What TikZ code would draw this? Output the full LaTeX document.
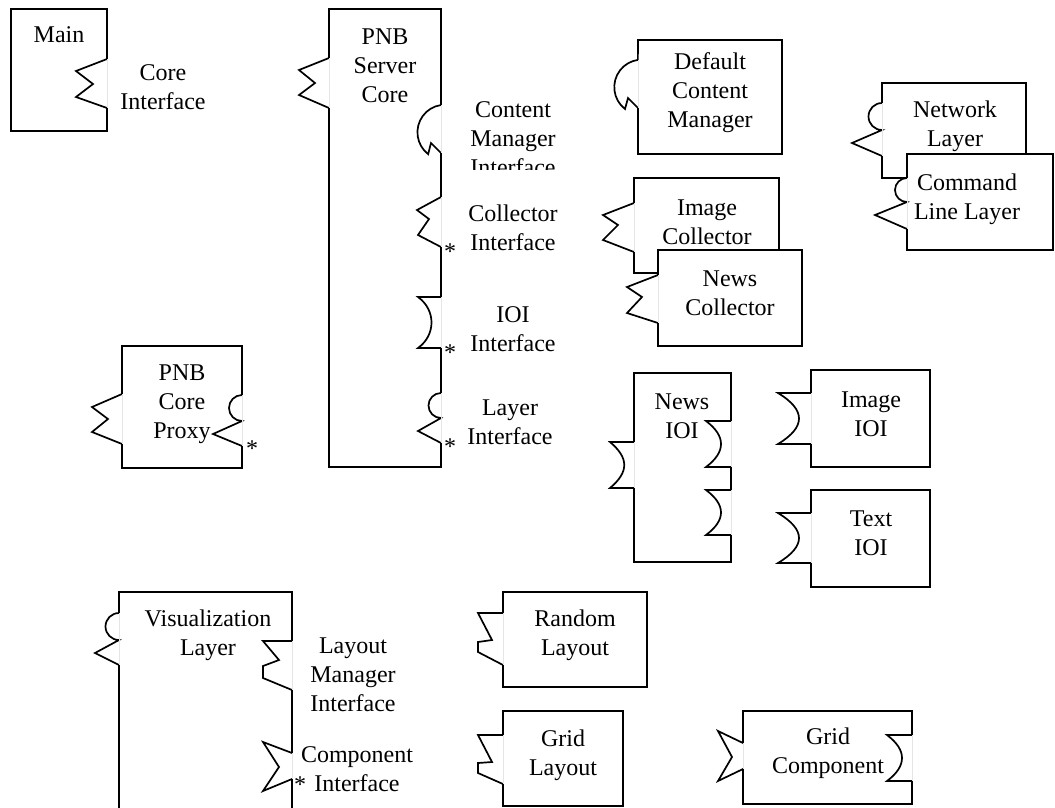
\documentclass[tikz,border=0pt]{standalone}
\usepackage{fontspec}
\setmainfont{Liberation Serif}
\newcommand\lblfont{\fontsize{24}{29}\selectfont}
\tikzset{
  outline/.style={draw=black, line width=1.7pt, line join=miter, fill=white},
  seam/.style={draw=black!10, line width=1pt},
  lbl/.style={font=\lblfont, align=center, inner sep=0pt},
  star/.style={font=\lblfont, inner sep=0pt}
}
\begin{document}
\begin{tikzpicture}[x=1pt,y=-1pt]
\useasboundingbox (0,0) rectangle (1055,807);

% ---- Main ----
\draw[outline] (11,9)--(107,9)--(107,59)--(76,71)--(93,84)--(76,97)--(107,108)
  --(107,131)--(11,131)--cycle;
\draw[seam] (107,59)--(107,108);
\node[lbl] (main) at (59,35) {Main};
\node[lbl] (coreif) at (163,87) {Core\\Interface};

% ---- PNB Server Core ----
\draw[outline] (329,9)--(441,9)--(441,105)
  arc[start angle=261.6, end angle=127.7, radius=27.6]
  --(431,143)--(441,153)
  --(441,197)--(417,210)--(429,219)--(418,235)--(441,247)
  --(441,297)--(418,297) .. controls (436,310) and (436,335) .. (418,348)--(441,348)
  --(441,393) arc[start angle=270, end angle=90, radius=12.5]
  --(418,431)--(441,443)
  --(441,467)--(329,467)
  --(329,108)--(299,95)--(315,83)--(299,70)--(329,58)--cycle;
\draw[seam] (441,105)--(441,153) (441,197)--(441,247) (441,297)--(441,348)
  (441,393)--(441,443) (329,58)--(329,108);
\node[lbl] (server) at (385,66) {PNB\\Server\\Core};
\begin{scope}
  \clip (470,80) rectangle (560,169);
  \node[lbl] (cmif) at (513,139) {Content\\Manager\\Interface};
\end{scope}
\node[lbl] (collif) at (513,228) {Collector\\Interface};
\node[lbl] (ioiif) at (513,329) {IOI\\Interface};
\node[lbl] (layerif) at (510,422) {Layer\\Interface};
\node[star] (s1) at (450,252) {*};
\node[star] (s2) at (450,353) {*};
\node[star] (s3) at (450,447) {*};

% ---- Default Content Manager ----
\draw[outline] (638,40)--(782,40)--(782,154)--(638,154)--(638,108)--(628,98)--(625,109)
  arc[start angle=127.7, end angle=261.6, radius=27.6]--cycle;
\draw[seam] (638,60)--(638,108);
\node[lbl] (dcm) at (710,93) {Default\\Content\\Manager};

% ---- Image / News Collector ----
\draw[outline] (634,178)--(779,178)--(779,273)--(634,273)
  --(634,252)--(603,240)--(618,225)--(603,215)--(634,203)--cycle;
\draw[seam] (634,203)--(634,252);
\node[lbl] (imgcoll) at (707,222) {Image\\Collector};
\draw[outline] (658,250)--(802,250)--(802,346)--(658,346)
  --(658,323)--(627,313)--(642,297)--(627,287)--(658,275)--cycle;
\draw[seam] (658,275)--(658,323);
\node[lbl] (newscoll) at (730,293) {News\\Collector};

% ---- Network / Command Line Layer ----
\draw[outline] (882,83)--(1026,83)--(1026,178)--(882,178)
  --(882,156)--(852,143)--(882,130)
  arc[start angle=90, end angle=270, radius=13.5]--cycle;
\draw[seam] (882,103)--(882,156);
\node[lbl] (netlayer) at (955,126) {Network\\Layer};
\draw[outline] (907,154)--(1053,154)--(1053,250)--(907,250)
  --(907,229)--(875,215)--(907,202)
  arc[start angle=90, end angle=270, radius=12]--cycle;
\draw[seam] (907,178)--(907,229);
\node[lbl] (cmdlayer) at (967,199) {Command\\Line Layer};

% ---- PNB Core Proxy ----
\draw[outline] (122,346)--(242,346)--(242,395)
  arc[start angle=270, end angle=90, radius=13]
  --(213,434)--(242,446)--(242,468)--(122,468)
  --(122,444)--(92,432)--(108,419)--(92,407)--(122,394)--cycle;
\draw[seam] (242,395)--(242,446) (122,394)--(122,444);
\node[lbl] (proxy) at (182,404) {PNB\\Core\\Proxy};
\node[star] (s4) at (252,449) {*};

% ---- News / Image / Text IOI ----
\draw[outline] (634,373)--(731,373)--(731,421)--(706,421)
  .. controls (726,436) and (726,452) .. (706,467)--(731,467)
  --(731,490)--(706,490) .. controls (726,505) and (726,520) .. (706,535)--(731,535)
  --(731,562)--(634,562)--(634,488)--(610,488)
  .. controls (629,472) and (629,458) .. (610,442)--(634,442)--cycle;
\draw[seam] (731,421)--(731,467) (731,490)--(731,535) (634,442)--(634,488);
\node[lbl] (newsioi) at (682,416) {News\\IOI};

\draw[outline] (811,370)--(930,370)--(930,467)--(811,467)--(811,444)--(778,444)
  .. controls (806,427) and (806,410) .. (778,393)--(811,393)--cycle;
\draw[seam] (811,393)--(811,444);
\node[lbl] (imgioi) at (871,414) {Image\\IOI};

\draw[outline] (811,490)--(930,490)--(930,587)--(811,587)--(811,563)--(778,563)
  .. controls (806,546) and (806,530) .. (778,513)--(811,513)--cycle;
\draw[seam] (811,513)--(811,563);
\node[lbl] (textioi) at (871,533) {Text\\IOI};

% ---- Visualization Layer ----
\draw[outline] (119,815)--(119,665)--(95,653)--(119,640)
  arc[start angle=90, end angle=270, radius=13.5]
  --(119,592)--(292,592)
  --(292,641)--(263,641)--(279,660)--(263,666)--(263,678)--(292,690)
  --(292,753)--(263,742)--(279,767)--(263,791)--(292,779)--(292,815);
\draw[seam] (119,613)--(119,665) (292,641)--(292,690) (292,753)--(292,779);
\node[lbl] (vislayer) at (208,635) {Visualization\\Layer};
\node[lbl] (lmif) at (353,675) {Layout\\Manager\\Interface};
\node[lbl] (compif) at (357,769) {Component\\Interface};
\node[star] (s5) at (300,785) {*};

% ---- Random / Grid Layout ----
\draw[outline] (503,592)--(647,592)--(647,687)--(503,687)
  --(503,665)--(478,652)--(478,642)--(492,640)--(478,613)--(503,613)--cycle;
\draw[seam] (503,613)--(503,665);
\node[lbl] (random) at (575,635) {Random\\Layout};
\draw[outline] (503,711)--(623,711)--(623,806)--(503,806)
  --(503,784)--(478,773)--(478,763)--(492,762)--(478,735)--(503,735)--cycle;
\draw[seam] (503,735)--(503,784);
\node[lbl] (gridlayout) at (563,755) {Grid\\Layout};

% ---- Grid Component ----
\draw[outline] (743,711)--(912,711)--(912,735)--(887,735)
  .. controls (907,750) and (907,766) .. (887,781)--(912,781)
  --(912,804)--(743,804)--(743,769)--(718,781)--(732,757)--(718,731)--(743,743)--cycle;
\draw[seam] (743,743)--(743,769) (912,735)--(912,781);
\node[lbl] (gridcomp) at (828,753) {Grid\\Component};
\end{tikzpicture}
\end{document}
